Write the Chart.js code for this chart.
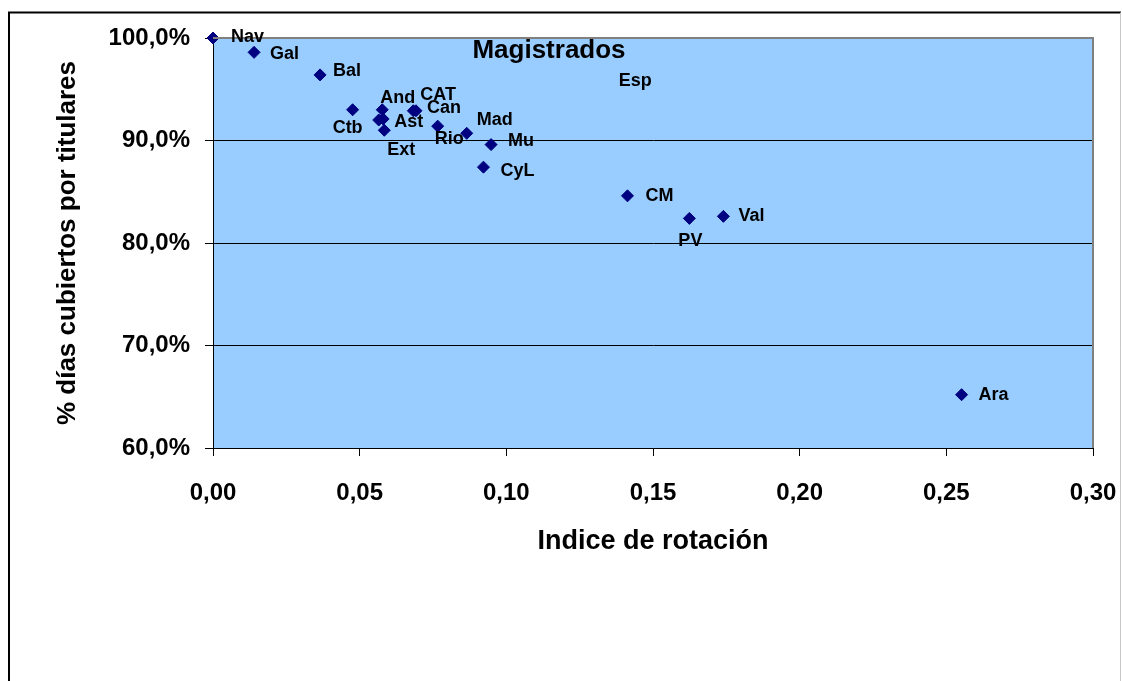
<!DOCTYPE html>
<html>
<head>
<meta charset="utf-8">
<title>Magistrados</title>
<script src="https://cdn.jsdelivr.net/npm/chart.js@4.4.1/dist/chart.umd.min.js"></script>
<style>
    body { margin: 0; background: #fff; }
    canvas { display: block; }
</style>
</head>
<body>
<canvas id="myChart" width="1122" height="681"></canvas>
<script>
// values
const regions = ["Nav", "Gal", "Bal", "Ctb", "And", "Ast", "Esp", "Ext", "CAT", "Can", "Rio", "Mad", "Mu", "CyL", "CM", "PV", "Val", "Ara"];
const rotationIndex = [0.000, 0.014, 0.0365, 0.0476, 0.0577, 0.058, 0.0565, 0.0584, 0.0683, 0.0692, 0.0766, 0.0865, 0.0948, 0.0922, 0.1413, 0.1624, 0.174, 0.2552];
const coveredPct = [100.0, 98.6, 96.4, 93.0, 93.0, 92.1, 92.0, 91.0, 92.9, 92.9, 91.4, 90.7, 89.6, 87.4, 84.6, 82.4, 82.6, 65.2];
const xTickValues = [0, 0.05, 0.10, 0.15, 0.20, 0.25, 0.30];
const yTickValues = [60, 70, 80, 90, 100];

// where each data label sits relative to its marker (px)
const labelOffsets = {
    Nav: [18, -1], Gal: [16, 2], Bal: [13, -4], Ctb: [-20, 18], And: [-2, -12],
    Ast: [11, 3], Esp: [240, -39], Ext: [3, 20], CAT: [7, -16], Can: [11, -3],
    Rio: [-3, 13], Mad: [10, -13], Mu: [17, -4], CyL: [17, 4], CM: [18, 0],
    PV: [-11, 23], Val: [15, 0], Ara: [17, 0]
};

const FONT = '"Liberation Sans", Arial, sans-serif';

const framePlugin = {
    id: "frame",
    beforeDraw(chart) {
        const { ctx, chartArea: a } = chart;
        ctx.save();
        ctx.fillStyle = "#fff";
        ctx.fillRect(0, 0, chart.width, chart.height);
        ctx.fillStyle = "#99ccff";
        ctx.fillRect(a.left, a.top, a.right - a.left, a.bottom - a.top);
        // outer frame
        ctx.strokeStyle = "#000";
        ctx.lineWidth = 2;
        ctx.beginPath();
        ctx.moveTo(9, chart.height + 2);
        ctx.lineTo(9, 12.5);
        ctx.lineTo(chart.width - 1, 12.5);
        ctx.stroke();
        ctx.strokeStyle = "#c8c8c8";
        ctx.lineWidth = 1;
        ctx.beginPath();
        ctx.moveTo(chart.width - 1.5, 12.5);
        ctx.lineTo(chart.width - 1.5, chart.height + 2);
        ctx.stroke();
        ctx.restore();
    },
    afterDatasetsDraw(chart) {
        const { ctx, chartArea: a } = chart;
        ctx.save();
        // plot border top + right
        ctx.strokeStyle = "#808080";
        ctx.lineWidth = 2;
        ctx.beginPath();
        ctx.moveTo(a.left, a.top);
        ctx.lineTo(a.right, a.top);
        ctx.lineTo(a.right, a.bottom);
        ctx.stroke();

        // data labels
        ctx.fillStyle = "#000";
        ctx.font = "bold 18px " + FONT;
        ctx.textAlign = "left";
        ctx.textBaseline = "middle";
        const meta = chart.getDatasetMeta(0);
        meta.data.forEach((pt, i) => {
            const off = labelOffsets[regions[i]] || [15, 0];
            ctx.fillText(regions[i], pt.x + off[0], pt.y + off[1]);
        });

        // chart title inside the plot
        ctx.font = "bold 26px " + FONT;
        ctx.textAlign = "center";
        ctx.fillText("Magistrados", a.left + 336, a.top + 13);
        ctx.restore();
    }
};

const points = regions.map((r, i) => ({ x: rotationIndex[i], y: coveredPct[i] }));

new Chart(document.getElementById("myChart"), {
    type: "scatter",
    data: {
        datasets: [{
            label: "Magistrados",
            data: points,
            pointStyle: "rectRot",
            pointRadius: 6,
            pointHoverRadius: 6,
            backgroundColor: "#000080",
            borderColor: "#000080",
            borderWidth: 1,
            clip: false
        }]
    },
    options: {
        responsive: false,
        animation: false,
        layout: { padding: { left: 8, top: 38, right: 29, bottom: 123 } },
        plugins: {
            legend: { display: false },
            tooltip: { enabled: false }
        },
        scales: {
            x: {
                type: "linear",
                min: 0,
                max: 0.3,
                afterBuildTicks: s => { s.ticks = xTickValues.map(v => ({ value: v })); },
                afterFit: s => { s.height = 110; s.paddingLeft = 0; s.paddingRight = 0; },
                ticks: {
                    color: "#000",
                    font: { family: FONT, size: 24, weight: "bold" },
                    padding: 23,
                    maxRotation: 0,
                    callback: v => v.toFixed(2).replace(".", ",")
                },
                grid: { drawOnChartArea: false, tickLength: 8, tickColor: "#000" },
                border: { color: "#000", width: 1 },
                title: {
                    display: true,
                    text: "Indice de rotación",
                    color: "#000",
                    font: { family: FONT, size: 27, weight: "bold" },
                    padding: { top: 0, bottom: 0 }
                }
            },
            y: {
                type: "linear",
                min: 60,
                max: 100,
                afterBuildTicks: s => { s.ticks = yTickValues.map(v => ({ value: v })); },
                afterFit: s => { s.width = 205; s.paddingTop = 0; s.paddingBottom = 0; },
                ticks: {
                    color: "#000",
                    font: { family: FONT, size: 24, weight: "bold" },
                    padding: 15,
                    callback: v => v.toFixed(1).replace(".", ",") + "%"
                },
                grid: {
                    color: c => (c.tick && c.tick.value === 100) ? "rgba(0,0,0,0)" : "#000",
                    lineWidth: 1,
                    tickLength: 8,
                    tickColor: "#000"
                },
                border: { color: "#000", width: 1 },
                title: {
                    display: true,
                    text: "% días cubiertos por titulares",
                    color: "#000",
                    font: { family: FONT, size: 26, weight: "bold" },
                    padding: { top: 44, bottom: 0 }
                }
            }
        }
    },
    plugins: [framePlugin]
});
</script>
</body>
</html>
